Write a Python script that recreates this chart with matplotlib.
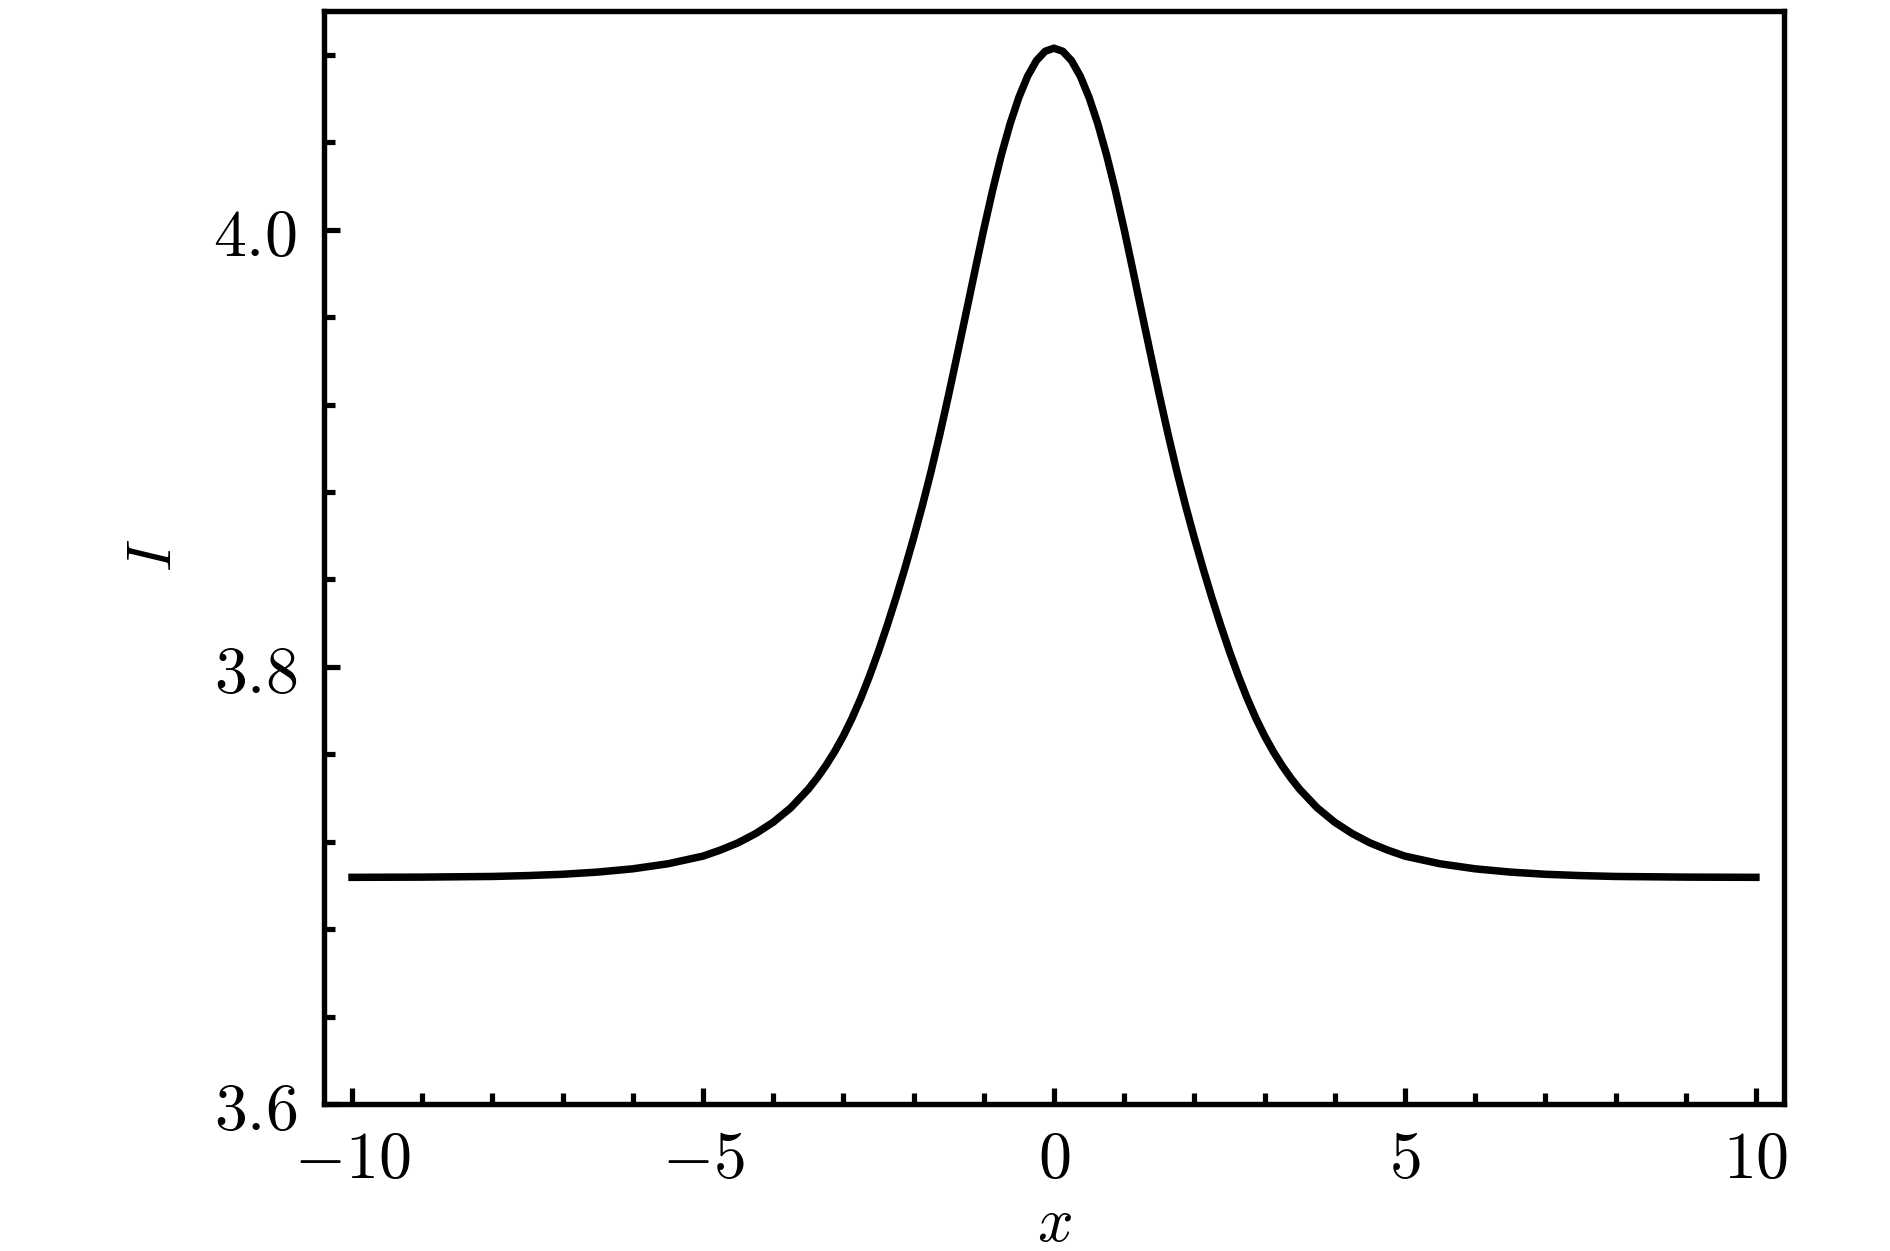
import matplotlib
matplotlib.use("Agg")
import matplotlib.pyplot as plt
from matplotlib.ticker import MultipleLocator, FuncFormatter

# values (symmetric about x = 0)
x_pos = [0.0, 0.125, 0.25, 0.375, 0.5, 0.625, 0.75, 0.875, 1.0, 1.125, 1.25,
         1.375, 1.5, 1.625, 1.75, 1.875, 2.0, 2.125, 2.25, 2.375, 2.5, 2.625,
         2.75, 2.875, 3.0, 3.125, 3.25, 3.375, 3.5, 3.75, 4.0, 4.25, 4.5, 4.75,
         5.0, 5.5, 6.0, 6.5, 7.0, 7.5, 8.0, 9.0, 10.0]
I_pos = [4.0830, 4.0816, 4.0773, 4.0702, 4.0605, 4.0484, 4.0341, 4.0179,
         4.0001, 3.9813, 3.9622, 3.9432, 3.9245, 3.9065, 3.8895, 3.8737,
         3.8589, 3.8449, 3.8316, 3.8190, 3.8071, 3.7960, 3.7858, 3.7766,
         3.7684, 3.7612, 3.7548, 3.7491, 3.7440, 3.7355, 3.7289, 3.7237,
         3.7195, 3.7162, 3.7134, 3.7099, 3.7076, 3.7061, 3.7051, 3.7045,
         3.7041, 3.7038, 3.7037]

x_vals = [-v for v in x_pos[:0:-1]] + x_pos
I_vals = I_pos[:0:-1] + I_pos

plt.rcParams['mathtext.fontset'] = 'cm'
plt.rcParams['font.family'] = 'serif'

fig = plt.figure(figsize=(6.3, 4.1733), dpi=300)
ax = fig.add_axes([0.1714, 0.1174, 0.9439 - 0.1714, 0.9904 - 0.1174])

ax.plot(x_vals, I_vals, color='black', lw=1.8, solid_joinstyle='round')

ax.set_xlim(-10.4, 10.4)
ax.set_ylim(3.6, 4.1)

ax.xaxis.set_major_locator(MultipleLocator(5))
ax.xaxis.set_minor_locator(MultipleLocator(1))
ax.yaxis.set_major_locator(MultipleLocator(0.2))
ax.yaxis.set_minor_locator(MultipleLocator(0.04))
ax.xaxis.set_major_formatter(FuncFormatter(lambda v, p: r'$%g$' % v))
ax.yaxis.set_major_formatter(FuncFormatter(lambda v, p: r'$%.1f$' % v))

ax.tick_params(which='both', direction='in', top=False, right=False,
               width=1.25, labelsize=15.8)
ax.tick_params(axis='x', which='major', pad=5.5)
ax.tick_params(axis='y', which='major', pad=6.5)
ax.tick_params(which='major', length=3.8)
ax.tick_params(which='minor', length=2.6)
for s in ax.spines.values():
    s.set_linewidth(1.3)

ax.set_xlabel(r'$x$', fontsize=15)
ax.set_ylabel(r'$I$', fontsize=15)
ax.xaxis.set_label_coords(0.5, -0.108)
ax.xaxis.label.set_verticalalignment('center')
ax.yaxis.set_label_coords(-0.1165, 0.503)
ax.yaxis.label.set_verticalalignment('center')

fig.savefig('out.png', dpi=300)
